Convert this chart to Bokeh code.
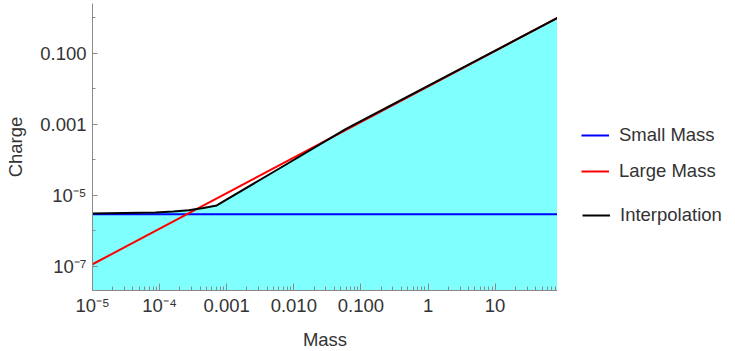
import math
from bokeh.plotting import figure
from bokeh.layouts import row
from bokeh.models import FixedTicker, CustomJSTickFormatter, Legend, LegendItem
from bokeh.embed import file_html
from bokeh.resources import INLINE

# ---- data ----
small_mass_x = [1e-5, 85]
small_mass_q = [2.95e-6, 2.95e-6]

large_mass_x = [1e-5, 85]
large_mass_q = [1.15e-7, 0.98]

interp_x = [1e-5, 3e-5, 8.7e-5, 1.6e-4, 2.7e-4, 4.5e-4, 7.1e-4, 0.006, 0.06, 85]
interp_q = [3.1e-6, 3.2e-6, 3.3e-6, 3.5e-6, 3.8e-6, 4.4e-6, 5.2e-6, 5.6e-5, 7.4e-4, 0.98]

series_names = ["Small Mass", "Large Mass", "Interpolation"]
series_colors = ["#0000FF", "#FF0000", "#000000"]

x_tick_values = [1e-5, 1e-4, 1e-3, 1e-2, 1e-1, 1, 10]
x_tick_labels = ["10\u207b\u2075", "10\u207b\u2074", "0.001", "0.010", "0.100", "1", "10"]
y_tick_values = [1e-7, 1e-5, 1e-3, 1e-1]
y_tick_labels = ["10\u207b\u2077", "10\u207b\u2075", "0.001", "0.100"]
y_minor_values = [1e-6, 1e-4, 1e-2, 1]

X_RANGE = (1e-5, 85)
Y_RANGE = (2.1e-8, 2.5)

FONT = "Liberation Sans"
FS = "18.5px"
TXT = "#333333"
AX = "#8a8a8a"
H = 348

p = figure(frame_width=465, frame_height=287,
           x_axis_type="log", y_axis_type="log",
           x_range=X_RANGE, y_range=Y_RANGE,
           min_border_left=92, min_border_right=0,
           min_border_top=3, min_border_bottom=H - 290,
           output_backend="svg", toolbar_location=None)
p.outline_line_color = None
p.xgrid.visible = False
p.ygrid.visible = False

# fill under interpolation
p.varea(x=interp_x, y1=[Y_RANGE[0] * 0.1] * len(interp_x), y2=interp_q,
        fill_color="#80FFFF", fill_alpha=1.0)

p.line(small_mass_x, small_mass_q, line_color=series_colors[0], line_width=2)
p.line(large_mass_x, large_mass_q, line_color=series_colors[1], line_width=2)
p.line(interp_x, interp_q, line_color=series_colors[2], line_width=2)

# ticks
x_minor = [m * 10.0 ** e for e in range(-5, 2) for m in range(2, 10) if m * 10.0 ** e <= X_RANGE[1]]
p.xaxis.ticker = FixedTicker(ticks=x_tick_values, minor_ticks=x_minor)
p.yaxis.ticker = FixedTicker(ticks=y_tick_values, minor_ticks=y_minor_values)

code = """
const e = Math.round(Math.log10(tick));
for (let i = 0; i < exps.length; i++) { if (exps[i] === e) return labels[i]; }
return "";
"""
p.xaxis.formatter = CustomJSTickFormatter(
    args=dict(labels=x_tick_labels, exps=[round(math.log10(v)) for v in x_tick_values]), code=code)
p.yaxis.formatter = CustomJSTickFormatter(
    args=dict(labels=y_tick_labels, exps=[round(math.log10(v)) for v in y_tick_values]), code=code)

p.xaxis.axis_label = "Mass"
p.yaxis.axis_label = "Charge"

for ax in (p.xaxis[0], p.yaxis[0]):
    ax.axis_line_color = AX
    ax.major_tick_line_color = AX
    ax.minor_tick_line_color = AX
    ax.major_tick_out = 0
    ax.minor_tick_out = 0
    ax.major_label_text_font = FONT
    ax.major_label_text_font_size = FS
    ax.major_label_text_color = TXT
    ax.axis_label_text_font = FONT
    ax.axis_label_text_font_size = FS
    ax.axis_label_text_font_style = "normal"
    ax.axis_label_text_color = TXT

p.xaxis.major_tick_in = 7
p.xaxis.minor_tick_in = 4
p.yaxis.major_tick_in = 5
p.yaxis.minor_tick_in = 3
p.xaxis.major_label_standoff = 4
p.xaxis.axis_label_standoff = 10
p.yaxis.major_label_standoff = 6
p.yaxis.axis_label_standoff = 11

# ---- legend panel to the right ----
p2 = figure(width=176, height=H, x_range=(0, 1), y_range=(0, 1),
            x_axis_location=None, y_axis_location=None,
            min_border_left=0, min_border_right=0, min_border_top=0, min_border_bottom=0,
            output_backend="svg", toolbar_location=None)
p2.outline_line_color = None
p2.xgrid.visible = False
p2.ygrid.visible = False
# legend-only renderers, kept outside the (hidden) ranges of this panel
rs = [p2.line(x=[5, 6], y=[5, 6], line_color=c, line_width=2) for c in series_colors]


def make_legend(items, loc):
    lg = Legend(items=items, location=loc)
    lg.border_line_color = None
    lg.background_fill_alpha = 0
    lg.padding = 0
    lg.margin = 0
    lg.spacing = 14
    lg.glyph_width = 28
    lg.glyph_height = 22
    lg.label_height = 22
    lg.label_standoff = 10
    lg.label_text_font = FONT
    lg.label_text_font_size = FS
    lg.label_text_color = TXT
    return lg


leg1 = make_legend([LegendItem(label=series_names[0], renderers=[rs[0]]),
                    LegendItem(label=series_names[1], renderers=[rs[1]])], (24, 104))
leg2 = make_legend([LegendItem(label=series_names[2], renderers=[rs[2]])], (25, 60))
p2.add_layout(leg1)
p2.add_layout(leg2)

layout = row(p, p2)
open("out.html", "w").write(file_html(layout, INLINE))
